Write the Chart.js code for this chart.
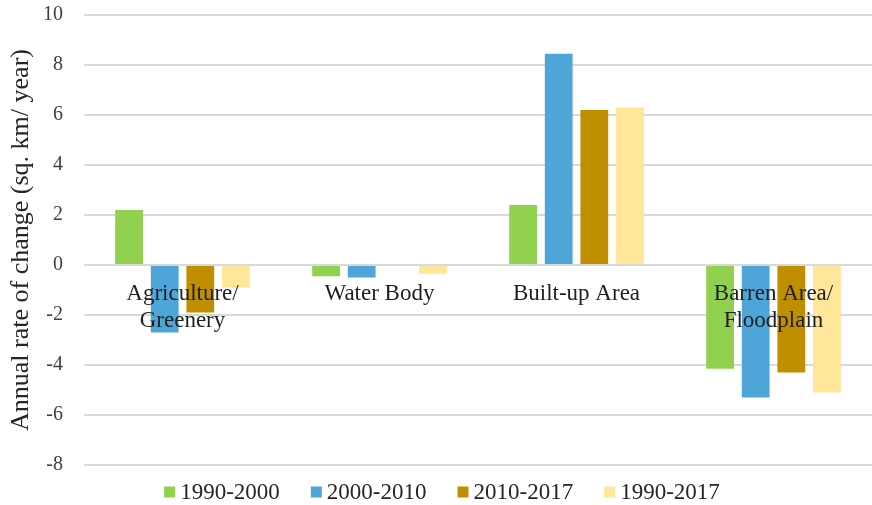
<!DOCTYPE html>
<html lang="en">
<head>
    <meta charset="UTF-8">
    <title>Annual rate of change</title>
    <script src="https://cdn.jsdelivr.net/npm/chart.js@4.4.0/dist/chart.umd.min.js"></script>
    <style>
        html, body { margin: 0; padding: 0; background: #fff; }
        .wrap { width: 872px; height: 505px; }
    </style>
</head>
<body>
    <div class="wrap">
        <canvas id="changeChart" width="872" height="505"></canvas>
    </div>

    <script>
        // land cover classes (two-line labels)
        const categories = [
            ['Agriculture/', 'Greenery'],
            ['Water Body'],
            ['Built-up Area'],
            ['Barren Area/', 'Floodplain']
        ];
        const periods = ['1990-2000', '2000-2010', '2010-2017', '1990-2017'];

        // sq. km per year
        const rate1990to2000 = [2.2, -0.45, 2.4, -4.15];
        const rate2000to2010 = [-2.7, -0.5, 8.45, -5.3];
        const rate2010to2017 = [-1.9, 0, 6.2, -4.3];
        const rate1990to2017 = [-0.9, -0.35, 6.3, -5.1];

        const yTicks = [-8, -6, -4, -2, 0, 2, 4, 6, 8, 10];

        const colors = ['#92D050', '#4EA5D7', '#BF8F00', '#FFE699'];
        const series = [rate1990to2000, rate2000to2010, rate2010to2017, rate1990to2017];

        const serif = "'Liberation Serif', 'Times New Roman', serif";

        // category names sit just under the zero line, on top of the bars
        const zeroLabels = {
            id: 'zeroLabels',
            afterDatasetsDraw(chart) {
                const ctx = chart.ctx;
                const x = chart.scales.x;
                const y0 = chart.scales.y.getPixelForValue(0);
                ctx.save();
                ctx.font = '23px ' + serif;
                ctx.fillStyle = '#1f1f1f';
                ctx.textAlign = 'center';
                ctx.textBaseline = 'middle';
                categories.forEach((lines, i) => {
                    const cx = x.getPixelForValue(i);
                    lines.forEach((t, j) => {
                        ctx.fillText(t, cx, y0 + 29 + j * 27);
                    });
                });
                ctx.restore();
            }
        };

        // legend row under the plot: small square, then the period
        const bottomLegend = {
            id: 'bottomLegend',
            afterDraw(chart) {
                const ctx = chart.ctx;
                const box = 11, gap = 5, spacing = 31;
                ctx.save();
                ctx.font = '23px ' + serif;
                ctx.textBaseline = 'middle';
                ctx.textAlign = 'left';
                const widths = periods.map(p => ctx.measureText(p).width);
                const total = widths.reduce((a, w) => a + box + gap + w, 0) + spacing * (periods.length - 1);
                let x = chart.width / 2 + 6 - total / 2;
                const y = 493;
                periods.forEach((p, i) => {
                    ctx.fillStyle = colors[i];
                    ctx.fillRect(x, y - box / 2 - 1, box, box);
                    ctx.fillStyle = '#262626';
                    ctx.fillText(p, x + box + gap, y);
                    x += box + gap + widths[i] + spacing;
                });
                ctx.restore();
            }
        };

        new Chart(document.getElementById('changeChart'), {
            type: 'bar',
            data: {
                labels: categories.map(c => c.join(' ')),
                datasets: periods.map((p, i) => ({
                    label: p,
                    data: series[i],
                    backgroundColor: colors[i],
                    borderWidth: 0,
                    categoryPercentage: 0.723,
                    barPercentage: 0.78
                }))
            },
            options: {
                responsive: false,
                animation: false,
                layout: { padding: { top: 15, right: -8, left: 0, bottom: 40 } },
                plugins: {
                    tooltip: { enabled: false },
                    legend: { display: false }
                },
                scales: {
                    x: {
                        display: false
                    },
                    y: {
                        min: -8,
                        max: 10,
                        afterBuildTicks(scale) {
                            scale.ticks = yTicks.map(v => ({ value: v }));
                        },
                        afterFit(scale) {
                            scale.width = 84;
                            scale.paddingTop = 0;
                            scale.paddingBottom = 0;
                        },
                        grid: { color: '#D9D9D9', lineWidth: 2, drawTicks: false },
                        border: { display: false },
                        ticks: {
                            padding: 21,
                            color: '#404040',
                            font: { family: serif, size: 20 }
                        },
                        title: {
                            display: true,
                            text: 'Annual rate of change (sq. km/ year)',
                            color: '#262626',
                            font: { family: serif, size: 26 },
                            padding: { top: 6, bottom: 0 }
                        }
                    }
                }
            },
            plugins: [zeroLabels, bottomLegend]
        });
    </script>
</body>
</html>
